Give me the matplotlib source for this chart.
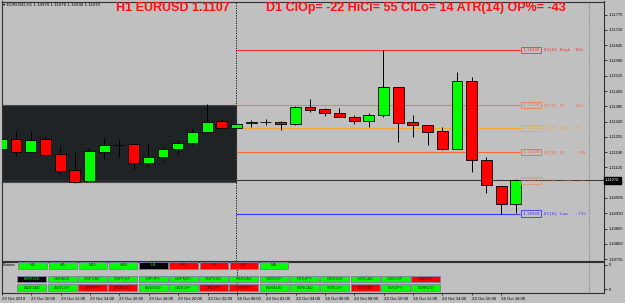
import matplotlib
matplotlib.use("Agg")
import matplotlib.pyplot as plt
import matplotlib.transforms as mtransforms
from matplotlib.patches import Rectangle

# EURUSD H1 candles, 23 Oct 08:00 ... 24 Oct 19:00
opens = [1.11203, 1.11245, 1.11189, 1.11245, 1.11181, 1.11114, 1.11067, 1.11192, 1.11222,
         1.11223, 1.11142, 1.11168, 1.11203, 1.11229, 1.11277, 1.11324, 1.11292, 1.11314,
         1.11317, 1.11317, 1.11308, 1.11381, 1.11372, 1.11355, 1.11341, 1.11324, 1.11348,
         1.11468, 1.11317, 1.11306, 1.11279, 1.11202, 1.11493, 1.11156, 1.11047, 1.10970]
highs = [1.11259, 1.11280, 1.11274, 1.11259, 1.11217, 1.11195, 1.11206, 1.11249, 1.11242,
         1.11230, 1.11230, 1.11216, 1.11242, 1.11294, 1.11395, 1.11331, 1.11314, 1.11327,
         1.11330, 1.11321, 1.11386, 1.11416, 1.11378, 1.11377, 1.11349, 1.11355, 1.11625,
         1.11468, 1.11348, 1.11306, 1.11296, 1.11532, 1.11511, 1.11168, 1.11047, 1.11076]
lows = [1.11189, 1.11175, 1.11186, 1.11178, 1.11097, 1.11057, 1.11067, 1.11156, 1.11168,
        1.11114, 1.11132, 1.11149, 1.11182, 1.11220, 1.11273, 1.11291, 1.11290, 1.11298,
        1.11304, 1.11284, 1.11306, 1.11362, 1.11344, 1.11338, 1.11310, 1.11298, 1.11338,
        1.11234, 1.11253, 1.11220, 1.11199, 1.11202, 1.11107, 1.11015, 1.10928, 1.10930]
closes = [1.11245, 1.11189, 1.11242, 1.11178, 1.11110, 1.11064, 1.11195, 1.11220, 1.11222,
          1.11142, 1.11168, 1.11205, 1.11230, 1.11276, 1.11320, 1.11294, 1.11310, 1.11317,
          1.11317, 1.11310, 1.11381, 1.11369, 1.11355, 1.11338, 1.11324, 1.11348, 1.11468,
          1.11315, 1.11306, 1.11276, 1.11202, 1.11493, 1.11156, 1.11049, 1.10969, 1.11070]

time_labels = ["23 Oct 2019", "23 Oct 10:00", "23 Oct 12:00", "23 Oct 14:00", "23 Oct 16:00",
               "23 Oct 18:00", "23 Oct 20:00", "23 Oct 22:00", "24 Oct 00:00", "24 Oct 02:00",
               "24 Oct 04:00", "24 Oct 06:00", "24 Oct 08:00", "24 Oct 10:00", "24 Oct 12:00",
               "24 Oct 14:00", "24 Oct 16:00", "24 Oct 18:00"]
price_ticks = [1.11775, 1.11710, 1.11645, 1.11580, 1.11515, 1.11450, 1.11385, 1.11320, 1.11255,
               1.11190, 1.11125, 1.11060, 1.10995, 1.10930, 1.10865, 1.10800, 1.10735]

# daily levels drawn from the day start
level_names = ["High", "BC", "Open", "SC", "Close", "Low"]
level_prices = [1.11625, 1.11390, 1.11292, 1.11190, 1.11070, 1.10928]
level_pcts = ["65%", "20%", "0%", "-20%", "-43%", "-71%"]
level_colors = ["#ff3030", "#f07a55", "#f5a830", "#f06a40", "#e09870", "#3a3aff"]
day_start = 16
box_top, box_bottom = 1.11390, 1.11064
bid = 1.11070

header1 = "H1 EURUSD 1.1107"
header2 = "D1 ClOp= -22 HiCl= 55 ClLo= 14 ATR(14) OP%= -43"

tf_buttons = ["M1", "M5", "M15", "M30", "H1", "H4", "D1", "W1", "MN"]
tf_state = ["g", "g", "g", "g", "k", "r", "r", "r", "g"]
pairs_row1 = ["EURUSD", "GBPAUD", "GBPCAD", "GBPCHF", "GBPJPY", "GBPNZD", "GBPUSD",
              "NZDCAD", "NZDCHF", "NZDJPY", "NZDUSD", "USDCAD", "USDCHF", "USDJPY"]
state_row1 = ["k", "g", "g", "g", "g", "g", "g", "g", "g", "g", "g", "g", "g", "r"]
pairs_row2 = ["AUDCAD", "AUDCHF", "AUDJPY", "AUDNZD", "AUDUSD", "CADCHF", "CADJPY",
              "CHFJPY", "EURAUD", "EURCAD", "EURCHF", "EURGBP", "EURJPY", "EURNZD"]
state_row2 = ["g", "g", "r", "r", "g", "g", "r", "r", "g", "g", "g", "r", "g", "g"]

W, H = 625, 303
bg = "#c0c0c0"
small = "Liberation Sans"
mono = "DejaVu Sans Mono"

fig = plt.figure(figsize=(W / 100, H / 100), dpi=100, facecolor=bg)

def px_axes(x0, y0, x1, y1):
    return fig.add_axes([x0 / W, 1 - y1 / H, (x1 - x0) / W, (y1 - y0) / H])

ax = px_axes(2, 1.5, 604, 260.5)
sub = px_axes(2, 261.5, 604, 293)
for a in (ax, sub):
    a.set_facecolor(bg)
    a.set_xlim(0.05, 41.0)
    for s in a.spines.values():
        s.set_color("#303030")
        s.set_linewidth(0.8)

ax.set_ylim(1.10729, 1.11831)

# previous-day box
ax.add_patch(Rectangle((-1, box_bottom), day_start + 1, box_top - box_bottom,
                       facecolor="#1f2326", edgecolor="#4a4a4a", lw=0.8, zorder=1))

# candles
idx = list(range(len(opens)))
ax.vlines(idx, lows, highs, color="black", lw=0.7, zorder=3)
bottoms = [min(o, c) for o, c in zip(opens, closes)]
heights = [max(abs(c - o), 0.000004) for o, c in zip(opens, closes)]
cols = ["#00ff00" if c > o else "#ff0000" if c < o else "black" for o, c in zip(opens, closes)]
ax.bar(idx, heights, bottom=bottoms, width=0.74, color=cols, edgecolor="black",
       linewidth=0.6, zorder=4)

# level lines with labels
ax.hlines(level_prices, day_start, 35.3, colors=level_colors, lw=0.8, zorder=2)
for name, p, pct, col in zip(level_names, level_prices, level_pcts, level_colors):
    ax.text(35.45, p, f"{p:.5f}", fontsize=3.0, family=mono, color=col, va="center",
            ha="left", zorder=5,
            bbox=dict(boxstyle="square,pad=0.3", fc="none", ec=col, lw=0.6))
    ax.text(36.9, p, f"D1[0] {name:<5} {pct}", fontsize=3.2, family=mono, color=col,
            va="center", ha="left", zorder=5)

# bid line
ax.axhline(bid, color="#303030", lw=0.7, zorder=2.5)

# separators
for a in (ax, sub):
    a.axvline(day_start, color="black", lw=0.6, ls=(0, (1.5, 1.5)), zorder=2)
    a.axvline(40, color="#888888", lw=0.8, ls=(0, (1, 1)), zorder=2)

# price axis
ax.yaxis.tick_right()
ax.set_yticks(price_ticks)
ax.set_yticklabels([f"{t:.5f}" for t in price_ticks])
ax.tick_params(axis="y", length=2, width=0.5, pad=1.5, labelsize=3.0, colors="black")
for lbl in ax.get_yticklabels():
    lbl.set_family(small)
ax.set_xticks([])
blend = mtransforms.blended_transform_factory(ax.transAxes, ax.transData)
ax.text(1.002, bid, f"{bid:.5f}", transform=blend, fontsize=3.0, family=small,
        color="white", va="center", ha="left", clip_on=False, zorder=6,
        bbox=dict(boxstyle="square,pad=0.35", fc="black", ec="black"))

# sub window / time axis
sub.set_ylim(0, 1)
sub.yaxis.tick_right()
sub.set_yticks([0.12, 0.9])
sub.set_yticklabels(["0", "0"])
sub.tick_params(axis="y", length=2, width=0.5, pad=1.5, labelsize=3.0)
sub.set_xticks(range(0, 2 * len(time_labels), 2))
sub.set_xticklabels(time_labels)
sub.tick_params(axis="x", length=1.5, width=0.5, pad=1.5, labelsize=3.1)
for lbl in sub.get_xticklabels() + sub.get_yticklabels():
    lbl.set_family(small)
for lbl in sub.get_xticklabels():
    lbl.set_ha("left")

# headers
fig.text(3 / W, 1 - 5 / H,
         f"\u25be EURUSD,H1 {opens[-1]:.5f} {highs[-1]:.5f} {lows[-1]:.5f} {closes[-1]:.5f}",
         fontsize=3.2, family=["Liberation Sans", "DejaVu Sans"], va="center", ha="left")
fig.text(116 / W, 1 - 8.3 / H, header1, fontsize=9, fontweight="bold", family="Liberation Sans",
         color="#ff1010", va="center", ha="left")
fig.text(266 / W, 1 - 8.3 / H, header2, fontsize=9, fontweight="bold", family="Liberation Sans",
         color="#ff1010", va="center", ha="left")

# buttons (pixel overlay)
ov = fig.add_axes([0, 0, 1, 1])
ov.set_xlim(0, W)
ov.set_ylim(H, 0)
ov.axis("off")
ov.patch.set_alpha(0)
face = {"g": "#00ff00", "r": "#ff0000", "k": "#000000"}
txt = {"g": "#1a3a1a", "r": "#3a0000", "k": "#00ff00"}

def button(x, y, w, h, label, st):
    ov.add_patch(Rectangle((x, y), w, h, facecolor=face[st], edgecolor="#8080a0", lw=0.6))
    ov.text(x + w / 2, y + h / 2 + 0.2, label, fontsize=2.9, family=small, color=txt[st],
            ha="center", va="center")

ov.text(3, 265, "Buttons", fontsize=2.8, family=small, va="center", ha="left")
for i, (lab, st) in enumerate(zip(tf_buttons, tf_state)):
    button(18.3 + 30.2 * i, 262, 28.4, 6.5, lab, st)
for i, (lab, st) in enumerate(zip(pairs_row1, state_row1)):
    button(17.3 + 30.3 * i, 276, 29, 6.4, lab, st)
for i, (lab, st) in enumerate(zip(pairs_row2, state_row2)):
    button(17.3 + 30.3 * i, 284.2, 29, 6.4, lab, st)

fig.savefig("out.png", dpi=100, facecolor=bg)
